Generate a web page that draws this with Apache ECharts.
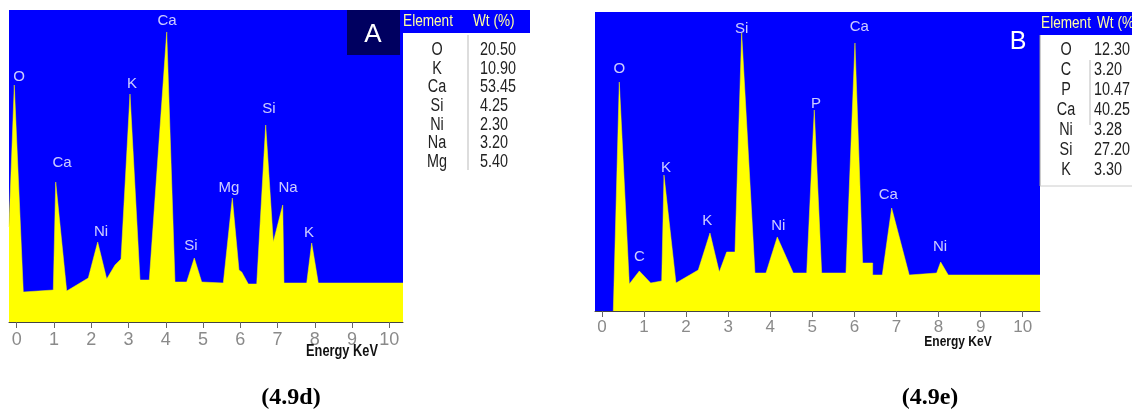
<!DOCTYPE html>
<html>
<head>
<meta charset="utf-8">
<script src="https://cdn.jsdelivr.net/npm/echarts@6/dist/echarts.min.js"></script>
<style>
html,body{margin:0;padding:0;background:#fff;}
#c{width:1132px;height:414px;}
</style>
</head>
<body>
<div id="c"></div>
<script>
// ---- Spectrum A (4.9d): energy (keV) and intensity (arb. units)
const energyA = [-0.208, -0.066, 0.176, 0.981, 1.046, 1.341, 1.921, 2.173, 2.415, 2.638, 2.799, 3.040, 3.309, 3.558, 4.026, 4.248, 4.562, 4.766, 4.965, 5.545, 5.787, 5.966, 6.039, 6.216, 6.442, 6.683, 6.887, 7.140, 7.174, 7.784, 7.918, 8.095, 10.369];
const countsA = [95, 237, 30, 32, 140, 31, 44, 80, 43, 57, 63, 228, 42, 42, 290, 40, 40, 64, 40, 39, 124, 52, 50, 38, 38, 197, 80, 117, 39, 39, 79, 39, 39];
// ---- Spectrum B (4.9e)
const energyB = [0.271, 0.413, 0.651, 0.889, 1.159, 1.421, 1.475, 1.760, 2.290, 2.568, 2.789, 2.965, 3.162, 3.321, 3.637, 3.899, 4.167, 4.547, 4.866, 5.046, 5.222, 5.799, 6.013, 6.196, 6.434, 6.434, 6.662, 6.885, 7.303, 7.954, 8.049, 8.230, 10.41];
const countsB = [0, 229, 27, 40, 28, 30, 136, 28, 41, 78, 39, 59, 59, 278, 38, 38, 74, 38, 38, 201, 38, 38, 268, 48, 48, 36, 36, 103, 36, 38, 49, 36, 36];

// ---- Peak labels
const peakNamesA = ['O', 'Ca', 'Ni', 'K', 'Ca', 'Si', 'Mg', 'Si', 'Na', 'K'];
const peakXA = [0.060, 1.215, 2.262, 3.094, 4.034, 4.678, 5.698, 6.772, 7.282, 7.846];
const peakYA = [245, 159, 90, 238, 301, 76, 134, 213, 134, 89];
const peakNamesB = ['O', 'C', 'K', 'K', 'Si', 'Ni', 'P', 'Ca', 'Ca', 'Ni'];
const peakXB = [0.413, 0.889, 1.523, 2.504, 3.321, 4.191, 5.087, 6.115, 6.804, 8.033];
const peakYB = [242, 54, 143, 90, 282, 85, 207, 284, 116, 64];

// ---- Tick labels
const tickValues = [0, 1, 2, 3, 4, 5, 6, 7, 8, 9, 10];

// ---- Composition tables
const tableElementsA = ['O', 'K', 'Ca', 'Si', 'Ni', 'Na', 'Mg'];
const tableWtA = ['20.50', '10.90', '53.45', '4.25', '2.30', '3.20', '5.40'];
const tableElementsB = ['O', 'C', 'P', 'Ca', 'Ni', 'Si', 'K'];
const tableWtB = ['12.30', '3.20', '10.47', '40.25', '3.28', '27.20', '3.30'];

const captions = ['(4.9d)', '(4.9e)'];
const panelTags = ['A', 'B'];
const axisTitle = 'Energy KeV';

const SANS = '"Liberation Sans", Arial, sans-serif';
const BLUE = '#0000ff';
const YELLOW = '#ffff00';
const NARROW_SCALE = 0.8;

function zip(xs, ys) { return xs.map((x, i) => [x, ys[i]]); }
function zip3(xs, ys, ns) { return xs.map((x, i) => [x, ys[i], ns[i]]); }

function xAxisCfg(gi, min, max, fs, margin) {
  return {
    type: 'value', gridIndex: gi, min: min, max: max,
    axisLine: { show: true, onZero: false, lineStyle: { color: '#444', width: 1 } },
    axisTick: { show: true, length: 6, customValues: tickValues, lineStyle: { color: '#666' } },
    axisLabel: { customValues: tickValues, color: '#8a8a8a', fontFamily: SANS, fontSize: fs, margin: margin },
    splitLine: { show: false }
  };
}

function ntext(x, y, text, fill, font, align, z) {
  return { type: 'text', x: x, y: y, scaleX: NARROW_SCALE, z: z || 2,
    style: { text: text, fill: fill, font: font, textAlign: align, textVerticalAlign: 'middle' } };
}

function tableGraphics(x0, y0, w, h, elX, wtX, sepX, rowY0, rowStep, els, wts, headerElX, headerWtX, sepY1, sepY2) {
  const g = [];
  g.push({ type: 'rect', shape: { x: x0, y: y0, width: w, height: h }, style: { fill: BLUE } });
  g.push(ntext(headerElX, y0 + h / 2, 'Element', '#ffffa0', '17px ' + SANS, 'center'));
  g.push(ntext(headerWtX, y0 + h / 2, 'Wt (%)', '#ffffa0', '17px ' + SANS, 'left'));
  els.forEach((e, i) => {
    g.push(ntext(elX, rowY0 + i * rowStep, e, '#222', '18px ' + SANS, 'center'));
    g.push(ntext(wtX, rowY0 + i * rowStep, wts[i], '#222', '18px ' + SANS, 'left'));
  });
  g.push({ type: 'line', shape: { x1: sepX, y1: sepY1, x2: sepX, y2: sepY2 }, style: { stroke: '#bbb', lineWidth: 1 } });
  return g;
}

const chart = echarts.init(document.getElementById('c'), null, { renderer: 'canvas' });

const graphics = [].concat(
  [{ type: 'rect', shape: { x: 347, y: 10, width: 53, height: 45 }, style: { fill: '#000060' }, z: 10 },
   { type: 'text', x: 373, y: 35, style: { text: panelTags[0], fill: '#fff', font: '26px ' + SANS, textAlign: 'center', textVerticalAlign: 'middle' }, z: 11 },
   { type: 'text', x: 1018, y: 42, style: { text: panelTags[1], fill: '#fff', font: '25px ' + SANS, textAlign: 'center', textVerticalAlign: 'middle' }, z: 11 }],
  tableGraphics(400, 10, 130, 23, 437, 480, 468, 50, 18.7, tableElementsA, tableWtA, 428, 473, 35, 170),
  tableGraphics(1040, 12, 92, 23, 1066, 1094, 1090, 50, 20, tableElementsB, tableWtB, 1066, 1097, 60, 125),
  [{ type: 'line', shape: { x1: 1040, y1: 35, x2: 1040, y2: 186 }, style: { stroke: '#999', lineWidth: 1 } },
   { type: 'line', shape: { x1: 1040, y1: 186, x2: 1132, y2: 186 }, style: { stroke: '#ccc', lineWidth: 1 } },
   ntext(342, 352, axisTitle, '#111', 'bold 16px ' + SANS, 'center'),
   ntext(958, 342, axisTitle, '#111', 'bold 15px ' + SANS, 'center'),
   { type: 'text', x: 291, y: 398, style: { text: captions[0], fill: '#000', font: 'bold 24px "Liberation Serif", "Times New Roman", serif', textAlign: 'center', textVerticalAlign: 'middle' } },
   { type: 'text', x: 930, y: 398, style: { text: captions[1], fill: '#000', font: 'bold 24px "Liberation Serif", "Times New Roman", serif', textAlign: 'center', textVerticalAlign: 'middle' } }]
);

const labelCfg = {
  show: true, position: 'inside', color: '#fff', fontFamily: SANS, fontSize: 15,
  formatter: p => p.data[2]
};

chart.setOption({
  animation: false,
  backgroundColor: '#fff',
  grid: [
    { left: 9, top: 10, width: 394, height: 312, show: true, backgroundColor: BLUE, borderWidth: 0 },
    { left: 595, top: 12, width: 445, height: 299, show: true, backgroundColor: BLUE, borderWidth: 0 }
  ],
  xAxis: [
    xAxisCfg(0, -0.208, 10.369, 18, 9),
    xAxisCfg(1, -0.164, 10.41, 17, 8)
  ],
  yAxis: [
    { type: 'value', gridIndex: 0, min: 0, max: 312, show: false },
    { type: 'value', gridIndex: 1, min: 0, max: 299, show: false }
  ],
  series: [
    { type: 'line', xAxisIndex: 0, yAxisIndex: 0, data: zip(energyA, countsA), showSymbol: false, silent: true,
      lineStyle: { color: YELLOW, width: 0.5 }, areaStyle: { color: YELLOW, opacity: 1 } },
    { type: 'line', xAxisIndex: 1, yAxisIndex: 1, data: zip(energyB, countsB), showSymbol: false, silent: true,
      lineStyle: { color: YELLOW, width: 0.5 }, areaStyle: { color: YELLOW, opacity: 1 } },
    { type: 'scatter', xAxisIndex: 0, yAxisIndex: 0, data: zip3(peakXA, peakYA, peakNamesA), symbolSize: 0, silent: true, label: labelCfg, z: 5 },
    { type: 'scatter', xAxisIndex: 1, yAxisIndex: 1, data: zip3(peakXB, peakYB, peakNamesB), symbolSize: 0, silent: true, label: labelCfg, z: 5 }
  ],
  graphic: graphics
});
</script>
</body>
</html>
